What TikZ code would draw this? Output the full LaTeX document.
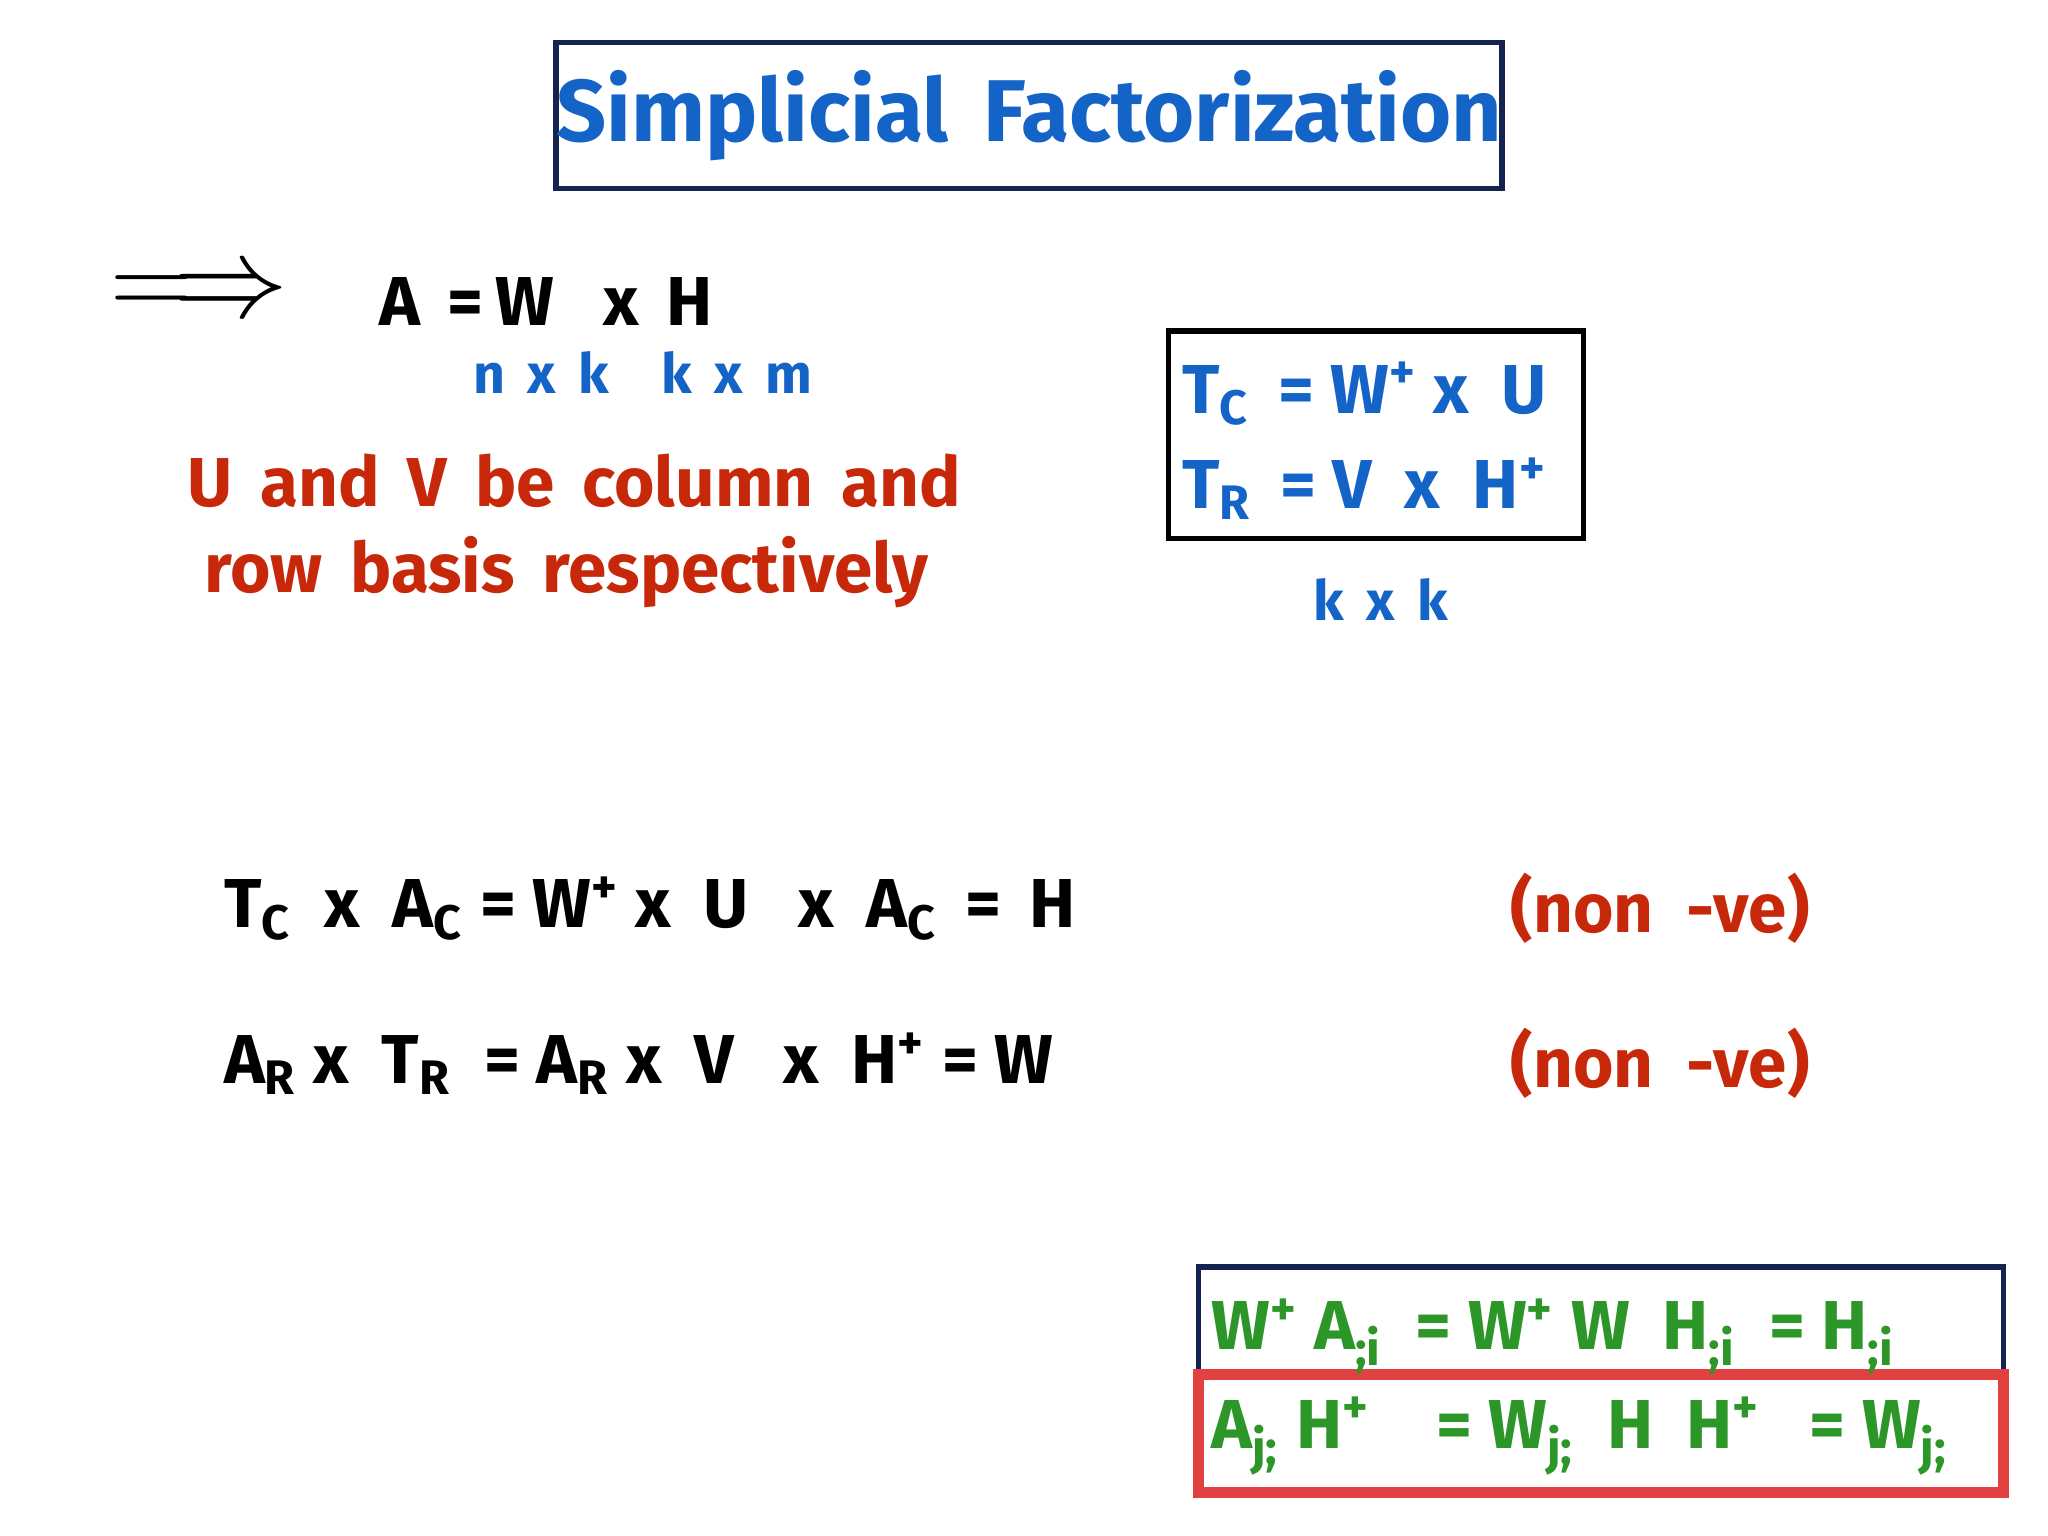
\documentclass[tikz,border=0pt]{standalone}
\usepackage{fontspec}
\setmainfont{Fira Sans}
\definecolor{tblue}{RGB}{20,100,200}
\definecolor{navy}{RGB}{20,35,80}
\definecolor{tred}{RGB}{200,40,10}
\definecolor{tgreen}{RGB}{45,150,40}
\definecolor{bred}{RGB}{225,65,65}
\begin{document}
\begin{tikzpicture}[x=0.01cm,y=-0.01cm,
  txt/.style={anchor=west,inner sep=0pt,font=\fontsize{15}{18}\selectfont\bfseries},
  redt/.style={anchor=west,inner sep=0pt,font=\fontsize{15}{20}\selectfont\bfseries,text=tred},
  small/.style={anchor=west,inner sep=0pt,font=\fontsize{12}{14}\selectfont\bfseries,text=tblue},
  frame/.style={draw=navy,line width=1.2pt}]
\useasboundingbox (0,0) rectangle (1560,1170);
\node[frame,text=tblue,font=\fontsize{19}{24}\selectfont\bfseries,minimum width=7.15cm,minimum height=1.11cm,inner sep=0pt] (title) at (784,88) {Simplicial \,Factorization};
\node[inner sep=0pt,font=\fontsize{24}{24}\selectfont] (arr) at (152,225) {$\Longrightarrow$};
\node[txt] (eq1) at (288,230) {A \,=\,W \ \ x \,H};
\node[small] (dim1) at (360,284) {n \,x \,k \ \ \ k \,x \,m};
\node[redt] (uv1) at (142,366) {U \,and \,V \,be \,column \,and};
\node[redt] (uv2) at (155,436) {row \,basis \,respectively};
\node[draw=black,line width=1.2pt,minimum width=3.16cm,minimum height=1.58cm,inner sep=0pt] (tbox) at (1048,331) {};
\node[txt,text=tblue] (tc) at (900,300) {T\textsubscript{C} \,= W\textsuperscript{+} x \ U};
\node[txt,text=tblue] (tr) at (900,372) {T\textsubscript{R} \,= V \ x \ H\textsuperscript{+}};
\node[small] (dim2) at (1000,457) {k \,x \,k};
\node[txt] (l1) at (170,692) {T\textsubscript{C} \ x \ A\textsubscript{C} = W\textsuperscript{+} x \ U \ \ x \ A\textsubscript{C} \,= \,H};
\node[txt] (l2) at (170,810) {A\textsubscript{R} x \ T\textsubscript{R} \ = A\textsubscript{R} x \ V \ \ x \ H\textsuperscript{+} = W};
\node[redt] (nn1) at (1150,692) {(non \ -ve)};
\node[redt] (nn2) at (1150,810) {(non \ -ve)};
\draw[frame] (913,1045) -- (913,965) -- (1526,965) -- (1526,1045);
\draw[draw=bred,line width=2.4pt] (913,1047) rectangle (1526,1137);
\node[txt,text=tgreen] (g1) at (922,1018) {W\textsuperscript{+} A\textsubscript{;i} \ = W\textsuperscript{+} W \ H\textsubscript{;i} \ = H\textsubscript{;i}};
\node[txt,text=tgreen] (g2) at (922,1094) {A\textsubscript{j;} H\textsuperscript{+} \ \ \ = W\textsubscript{j;} \ H \ H\textsuperscript{+} \ \ = W\textsubscript{j;}};
\end{tikzpicture}
\end{document}
